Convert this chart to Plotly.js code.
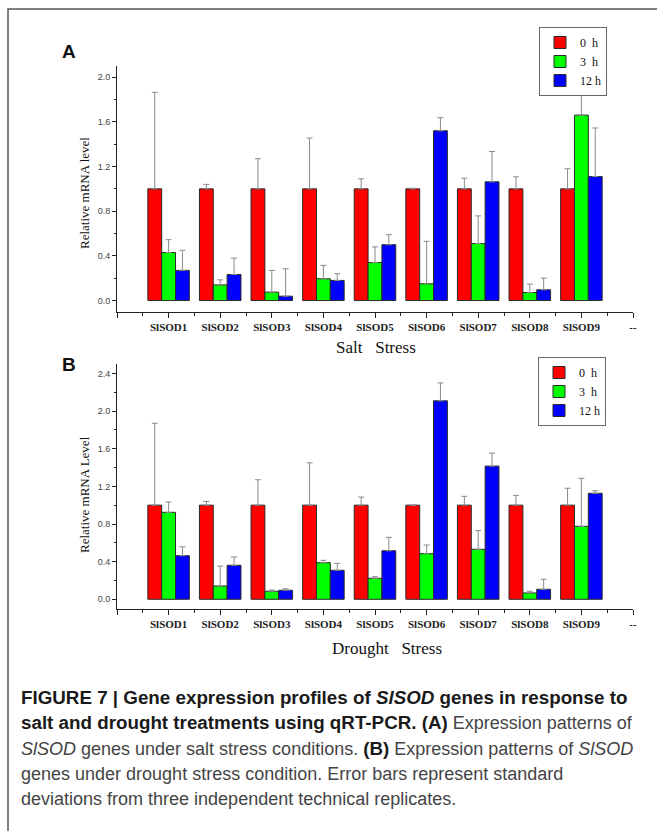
<!DOCTYPE html>
<html>
<head>
<meta charset="utf-8">
<script src="https://cdn.plot.ly/plotly-3.0.1.min.js"></script>
<style>html,body{margin:0;padding:0;background:#fff;}#chart{width:657px;height:831px;}</style>
</head>
<body>
<div id="chart"></div>
<script>
// ---- data ----
const genes = ["SlSOD1","SlSOD2","SlSOD3","SlSOD4","SlSOD5","SlSOD6","SlSOD7","SlSOD8","SlSOD9"];
const tickLabels = ["", "SlSOD1","SlSOD2","SlSOD3","SlSOD4","SlSOD5","SlSOD6","SlSOD7","SlSOD8","SlSOD9","--"];
const seriesNames = ["0\u00a0\u00a0h", "3\u00a0\u00a0h", "12\u00a0h"];

// Salt stress (A)
const salt0h   = [1, 1, 1, 1, 1, 1, 1, 1, 1];
const salt0hSD = [0.865, 0.04, 0.27, 0.455, 0.09, 0.005, 0.095, 0.108, 0.18];
const salt3h   = [0.43, 0.14, 0.075, 0.195, 0.34, 0.15, 0.51, 0.072, 1.66];
const salt3hSD = [0.115, 0.045, 0.195, 0.12, 0.14, 0.38, 0.248, 0.075, 0.23];
const salt12h  = [0.27, 0.233, 0.039, 0.18, 0.5, 1.52, 1.063, 0.096, 1.11];
const salt12hSD= [0.18, 0.147, 0.245, 0.06, 0.09, 0.117, 0.272, 0.105, 0.435];

// Drought stress (B)
const drought0h   = [1, 1, 1, 1, 1, 1, 1, 1, 1];
const drought0hSD = [0.87, 0.04, 0.27, 0.45, 0.086, 0, 0.094, 0.104, 0.18];
const drought3h   = [0.924, 0.141, 0.085, 0.389, 0.223, 0.485, 0.531, 0.067, 0.775];
const drought3hSD = [0.11, 0.212, 0.014, 0.025, 0.017, 0.092, 0.198, 0.018, 0.51];
const drought12h  = [0.463, 0.361, 0.096, 0.308, 0.516, 2.109, 1.415, 0.106, 1.126];
const drought12hSD= [0.095, 0.088, 0.015, 0.074, 0.142, 0.19, 0.138, 0.106, 0.027];

// ---- build ----
const colors = ["#ff0000", "#00ff00", "#0000ff"];
const pos = genes.map((g, i) => i + 1);
const zeros = genes.map(() => 0);

function bars(vals, sds, k, xa, ya, leg) {
  return {
    type: "bar", x: pos, y: vals, name: seriesNames[k],
    xaxis: xa, yaxis: ya, legend: leg,
    marker: {color: colors[k], line: {color: "#2a2a2a", width: 1}},
    error_y: {type: "data", symmetric: false, array: sds, arrayminus: zeros,
              color: "#8a8a8a", thickness: 1, width: 3},
    hoverinfo: "skip"
  };
}

const data = [
  bars(salt0h, salt0hSD, 0, "x", "y", "legend"),
  bars(salt3h, salt3hSD, 1, "x", "y", "legend"),
  bars(salt12h, salt12hSD, 2, "x", "y", "legend"),
  bars(drought0h, drought0hSD, 0, "x2", "y2", "legend2"),
  bars(drought3h, drought3hSD, 1, "x2", "y2", "legend2"),
  bars(drought12h, drought12hSD, 2, "x2", "y2", "legend2")
];

const W = 657, H = 831;
const px = v => v / W;
const py = v => 1 - v / H;

function xAxis(anchor, dom) {
  return {
    domain: dom, anchor: anchor, range: [0, 10],
    tickmode: "array", tickvals: tickLabels.map((t, i) => i), ticktext: tickLabels,
    ticks: "outside", ticklen: 5, tickcolor: "#222", tickwidth: 1,
    minor: {tickmode: "linear", tick0: 0, dtick: 0.5, ticks: "outside", ticklen: 3, tickcolor: "#222"},
    showline: true, linecolor: "#222", linewidth: 1, showgrid: false, zeroline: false,
    tickfont: {family: "Liberation Serif", size: 11, weight: "bold", color: "#222"},
    fixedrange: true
  };
}
function yAxis(anchor, dom, rng, tv) {
  return {
    domain: dom, anchor: anchor, range: rng,
    tickmode: "array", tickvals: tv, ticktext: tv.map(v => v.toFixed(1)),
    ticks: "outside", ticklen: 4, tickcolor: "#222", tickwidth: 1,
    minor: {tickmode: "linear", tick0: 0, dtick: 0.2, ticks: "outside", ticklen: 2, tickcolor: "#222"},
    showline: true, linecolor: "#222", linewidth: 1, showgrid: false, zeroline: false,
    tickfont: {family: "Liberation Sans", size: 9, color: "#444"},
    fixedrange: true
  };
}

const legFont = {family: "Liberation Serif", size: 12, color: "#111"};
const xDom = [px(117), px(633)];
const layout = {
  width: W, height: H,
  margin: {l: 0, r: 0, t: 0, b: 0},
  paper_bgcolor: "#fff", plot_bgcolor: "#fff",
  barmode: "group", bargap: 0.195, bargroupgap: 0,
  showlegend: true,
  xaxis: xAxis("y", xDom),
  yaxis: yAxis("x", [py(311.7), py(66)], [-0.1, 2.1], [0, 0.4, 0.8, 1.2, 1.6, 2.0]),
  xaxis2: xAxis("y2", xDom),
  yaxis2: yAxis("x2", [py(608.7), py(364)], [-0.1, 2.5], [0, 0.4, 0.8, 1.2, 1.6, 2.0, 2.4]),
  legend: {x: px(539), y: py(27), xanchor: "left", yanchor: "top",
           bgcolor: "#fff", bordercolor: "#666", borderwidth: 1,
           font: legFont, itemwidth: 30, tracegroupgap: 0},
  legend2: {x: px(538), y: py(357), xanchor: "left", yanchor: "top",
           bgcolor: "#fff", bordercolor: "#666", borderwidth: 1,
           font: legFont, itemwidth: 30, tracegroupgap: 0},
  shapes: [
    {type: "rect", xref: "paper", yref: "paper", x0: px(8), x1: 1.02, y0: -0.02, y1: py(9),
     line: {color: "#555", width: 1.5}, fillcolor: "rgba(0,0,0,0)", layer: "below"}
  ],
  annotations: []
};

const A = layout.annotations;
function ann(text, x, y, font, extra) {
  A.push(Object.assign({text: text, xref: "paper", yref: "paper", x: px(x), y: py(y),
    showarrow: false, font: font, xanchor: "center", yanchor: "middle"}, extra || {}));
}
const serif = s => ({family: "Liberation Serif", size: s, color: "#111"});
ann("<b>A</b>", 69, 52, {family: "Liberation Sans", size: 19, color: "#111"});
ann("<b>B</b>", 69, 365, {family: "Liberation Sans", size: 19, color: "#111"});
ann("Relative mRNA level", 84, 193, serif(13), {textangle: -90});
ann("Relative mRNA Level", 84, 495, serif(13), {textangle: -90});
ann("Salt\u00a0\u00a0\u00a0Stress", 376, 347, serif(17));
ann("Drought\u00a0\u00a0\u00a0Stress", 387, 648, serif(17));

const capFont = {family: "Liberation Sans", size: 18, color: "#444"};
const B = t => "<b><span style='color:#1a1a1a;font-size:18.8px'>" + t + "</span></b>";
const capLines = [
  B("FIGURE 7 | Gene expression profiles of <i>SlSOD</i> genes in response to"),
  B("salt and drought treatments using qRT-PCR. (A)") + " Expression patterns of",
  "<i>SlSOD</i> genes under salt stress conditions. " + B("(B)") + " Expression patterns of <i>SlSOD</i>",
  "genes under drought stress condition. Error bars represent standard",
  "deviations from three independent technical replicates."
];
const capY = [697, 722.5, 748, 773.5, 799];
capLines.forEach((t, i) => ann(t, 19, capY[i], capFont, {xanchor: "left"}));

Plotly.newPlot("chart", data, layout, {displayModeBar: false, staticPlot: true});
</script>
</body>
</html>
